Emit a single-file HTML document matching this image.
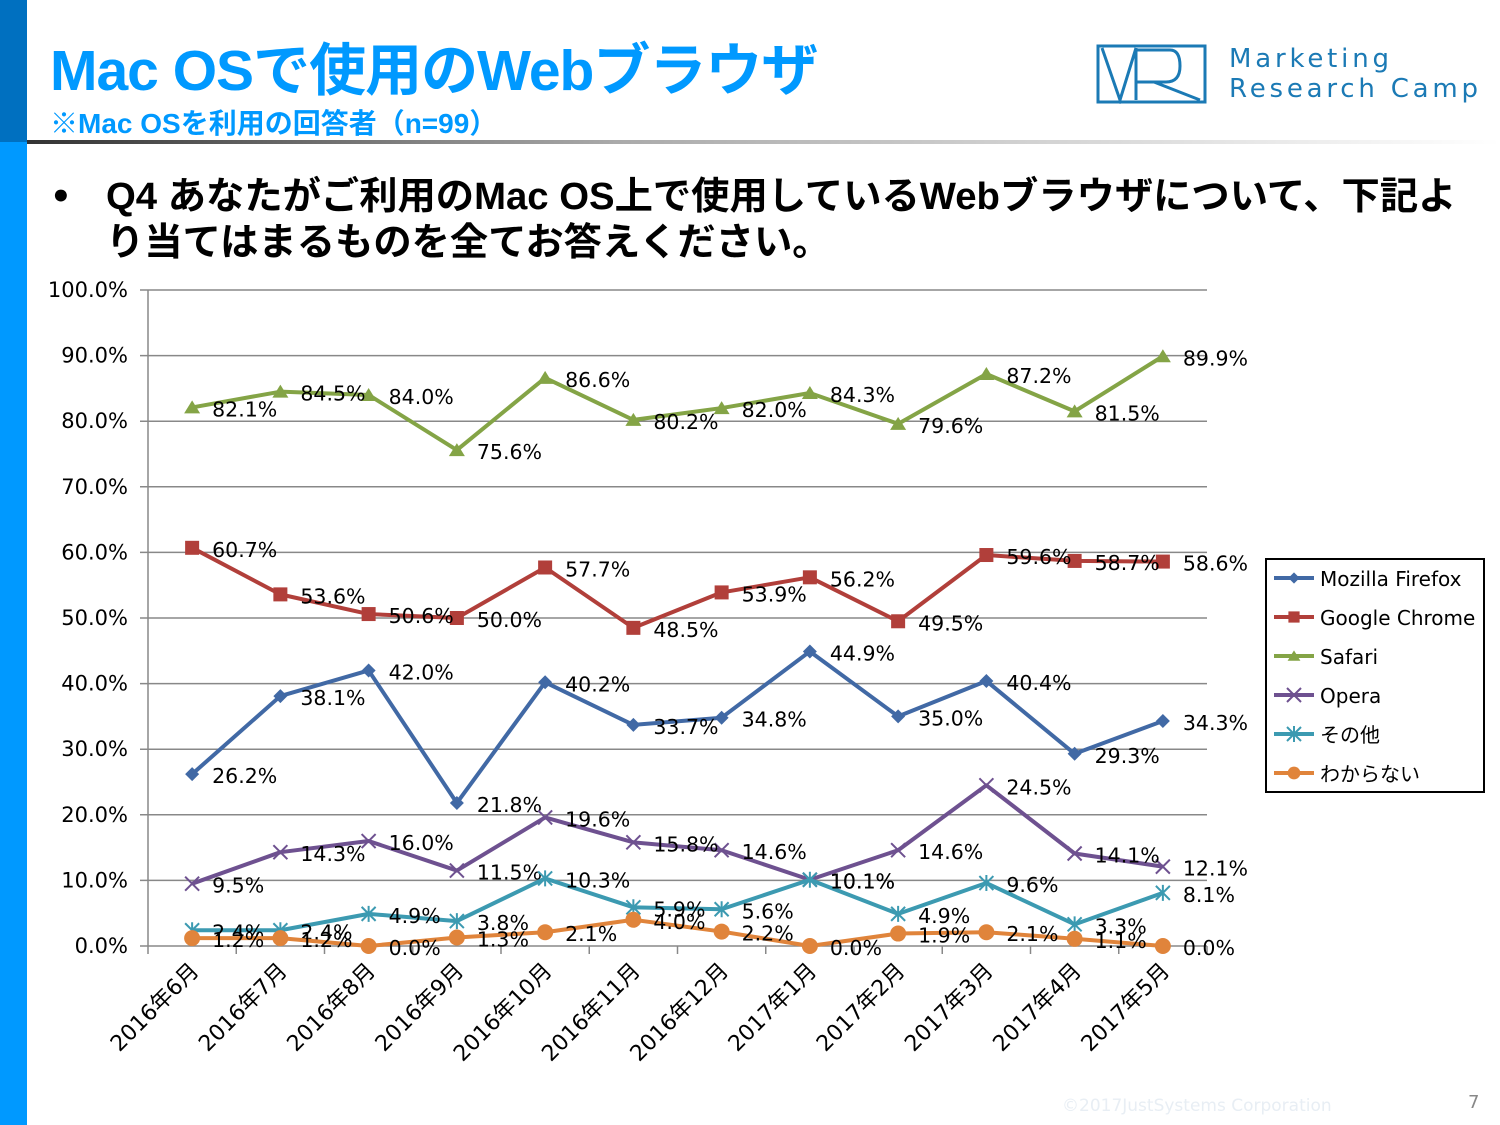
<!DOCTYPE html>
<html><head><meta charset="utf-8">
<style>
body{margin:0;width:1500px;height:1125px;overflow:hidden;background:#fff;font-family:"DejaVu Sans","Noto Sans CJK JP",sans-serif;position:relative}
.abs{position:absolute}
</style></head>
<body>
<div class="abs" style="left:0;top:0;width:27px;height:142px;background:#0070c0"></div>
<div class="abs" style="left:0;top:142px;width:27px;height:983px;background:#0099ff"></div>
<div class="abs" style="left:50px;top:36px;font-family:'Liberation Sans','Noto Sans CJK JP',sans-serif;font-weight:bold;font-size:57px;color:#0099ff;line-height:70px;letter-spacing:-1px">Mac OSで使用のWebブラウザ</div>
<div class="abs" style="left:50px;top:106px;font-family:'Liberation Sans','Noto Sans CJK JP',sans-serif;font-weight:bold;font-size:28px;color:#0099ff;line-height:36px">※Mac OSを利用の回答者（n=99）</div>
<div class="abs" style="left:27px;top:140px;width:1473px;height:4px;background:linear-gradient(to right,#333,#aaa 40%,#fff)"></div>
<svg class="abs" style="left:1096px;top:44px" width="112" height="60" viewBox="0 0 112 60"><rect x="2" y="2" width="107" height="56" fill="none" stroke="#1b7ab5" stroke-width="3"/><path d="M6 4 L24 56 L40 4 M40 4 V56 M40 6 H74 Q84 6 84 22 Q84 38 70 38 H40 M58 38 L104 56" fill="none" stroke="#1b7ab5" stroke-width="3"/></svg>
<div class="abs" style="left:1229px;top:44px;font-size:26px;color:#1b7ab5;line-height:30px;letter-spacing:3.8px">Marketing<br>Research Camp</div>
<div class="abs" style="left:50px;top:174px;font-size:34px;font-weight:bold;line-height:46px">•</div>
<div class="abs" style="left:106px;top:174px;width:1362px;font-family:'Liberation Sans','Noto Sans CJK JP',sans-serif;font-size:38.3px;font-weight:bold;line-height:46px">Q4 あなたがご利用のMac OS上で使用しているWebブラウザについて、下記より当てはまるものを全てお答えください。</div>
<div class="abs" style="left:1062px;top:1096px;font-size:17px;color:#e8eef4">©2017JustSystems Corporation</div>
<div class="abs" style="left:1468px;top:1092px;font-size:18px;color:#888">7</div>
<svg class="abs" id="chart" style="left:0;top:0" width="1500" height="1125"></svg>
<script>
const categories=["2016年6月","2016年7月","2016年8月","2016年9月","2016年10月","2016年11月","2016年12月","2017年1月","2017年2月","2017年3月","2017年4月","2017年5月"];
const seriesNames=["Mozilla Firefox","Google Chrome","Safari","Opera","その他","わからない"];
const firefox=[26.2,38.1,42.0,21.8,40.2,33.7,34.8,44.9,35.0,40.4,29.3,34.3];
const chrome=[60.7,53.6,50.6,50.0,57.7,48.5,53.9,56.2,49.5,59.6,58.7,58.6];
const safari=[82.1,84.5,84.0,75.6,86.6,80.2,82.0,84.3,79.6,87.2,81.5,89.9];
const opera=[9.5,14.3,16.0,11.5,19.6,15.8,14.6,10.1,14.6,24.5,14.1,12.1];
const other=[2.4,2.4,4.9,3.8,10.3,5.9,5.6,10.1,4.9,9.6,3.3,8.1];
const unknown=[1.2,1.2,0.0,1.3,2.1,4.0,2.2,0.0,1.9,2.1,1.1,0.0];
const yTicks=[0,10,20,30,40,50,60,70,80,90,100];
const colors=["#4169a5","#b13f3a","#84a446","#6e5190","#3c9ab1","#e0843b"];
const markers=["diamond","square","triangle","x","star","circle"];
const allSeries=[firefox,chrome,safari,opera,other,unknown];
const NS="http://www.w3.org/2000/svg";
const svg=document.getElementById('chart');
const L=148,R=1207,T=290,B=946;
const bw=(R-L)/categories.length;
function x(i){return L+bw*(i+0.5);}
function y(v){return B-(v/100)*(B-T);}
function mk(tag,attrs,parent){const e=document.createElementNS(NS,tag);for(const k in attrs)e.setAttribute(k,attrs[k]);(parent||svg).appendChild(e);return e;}
yTicks.forEach(t=>{
  const g=mk('line',{x1:L-8,x2:R,y1:y(t),y2:y(t),stroke:'#888','stroke-width':1.5});
  
  
  const tx=mk('text',{x:128,y:y(t)+7,'text-anchor':'end','font-size':21,fill:'#000'});
  tx.textContent=t.toFixed(1)+'%';
  
  
});
const ax=mk('line',{x1:L,x2:L,y1:T,y2:B,stroke:'#888','stroke-width':1.5});


for(let i=0;i<=categories.length;i++){
  const tk=mk('line',{x1:L+bw*i,x2:L+bw*i,y1:B,y2:B+8,stroke:'#888','stroke-width':1.5});
  
  
}
categories.forEach((c,i)=>{
  const tx=mk('text',{'text-anchor':'end','font-size':22,transform:`translate(${x(i)+8},${B+26}) rotate(-45)`});
  tx.textContent=c;
  
  
});
function marker(type,cx,cy,col,parent,s){
  s=s||1;let e;
  if(type==='diamond')e=mk('path',{d:`M${cx} ${cy-7*s}L${cx+7*s} ${cy}L${cx} ${cy+7*s}L${cx-7*s} ${cy}Z`,fill:col},parent);
  else if(type==='square')e=mk('rect',{x:cx-7*s,y:cy-7*s,width:14*s,height:14*s,fill:col},parent);
  else if(type==='triangle')e=mk('path',{d:`M${cx} ${cy-7*s}L${cx+8*s} ${cy+6*s}L${cx-8*s} ${cy+6*s}Z`,fill:col},parent);
  else if(type==='x')e=mk('path',{d:`M${cx-7} ${cy-7}L${cx+7} ${cy+7}M${cx+7} ${cy-7}L${cx-7} ${cy+7}`,stroke:col,'stroke-width':2,fill:'none'},parent);
  else if(type==='star')e=mk('path',{d:`M${cx-7} ${cy-7}L${cx+7} ${cy+7}M${cx+7} ${cy-7}L${cx-7} ${cy+7}M${cx} ${cy-8}V${cy+8}`,stroke:col,'stroke-width':2,fill:'none'},parent);
  else e=mk('circle',{cx:cx,cy:cy,r:8*s,fill:col},parent);
  return e;
}
allSeries.forEach((vals,si)=>{
  const g=mk('g',{});
  
  
  const pts=vals.map((v,i)=>x(i)+','+y(v)).join(' ');
  mk('polyline',{points:pts,fill:'none',stroke:colors[si],'stroke-width':4,'stroke-linejoin':'round'},g);
  vals.forEach((v,i)=>{
    const m=marker(markers[si],x(i),y(v),colors[si],g);
    
    
  });
  vals.forEach((v,i)=>{
    const t=mk('text',{x:x(i)+20,y:y(v)+9,'font-size':20.5,fill:'#000'},g);
    t.textContent=v.toFixed(1)+'%';
    
    
  });
});
const lg=mk('g',{});


mk('rect',{x:1266,y:559,width:218,height:233,fill:'#fff',stroke:'#000','stroke-width':2},lg);
seriesNames.forEach((n,i)=>{
  const yy=578+i*39;
  const e=mk('g',{},lg);
  
  
  mk('line',{x1:1274,x2:1314,y1:yy,y2:yy,stroke:colors[i],'stroke-width':4},e);
  marker(markers[i],1294,yy,colors[i],e,0.8);
  const t=mk('text',{x:1320,y:yy+8,'font-size':20},e);
  t.textContent=n;
});
</script>
</body></html>
